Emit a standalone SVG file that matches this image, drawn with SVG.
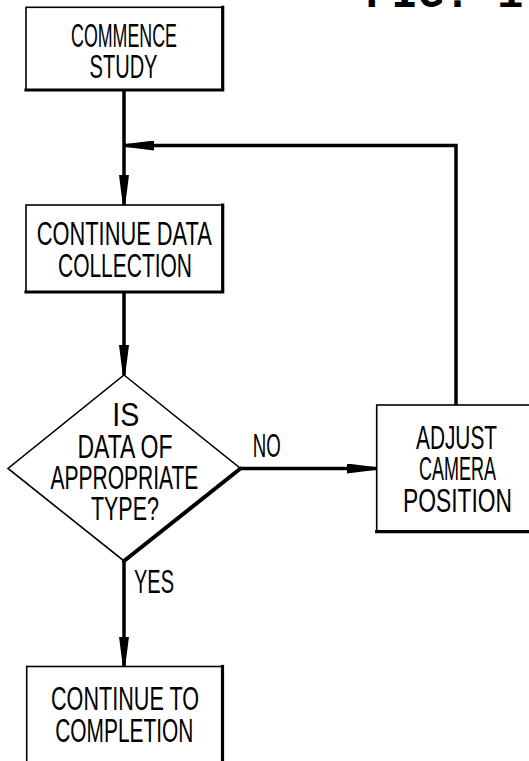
<svg xmlns="http://www.w3.org/2000/svg" width="529" height="761" viewBox="0 0 529 761">
<style>
.bg{fill:#fff}
.thin{fill:none;stroke:#000;stroke-width:1.6}
.thick{fill:none;stroke:#000;stroke-width:3.2;stroke-linecap:square}
.conn{fill:none;stroke:#000;stroke-width:3.5}
.lbl{font-family:"Liberation Sans",Arial,sans-serif;font-size:34px;fill:#000;text-anchor:middle}
.title{font-family:"Liberation Mono","Courier New",monospace;font-size:44px;font-weight:bold;fill:#000}
</style>
<defs>
<marker id="ah" viewBox="0 0 30 10" refX="30" refY="5" markerWidth="30" markerHeight="10" markerUnits="userSpaceOnUse" orient="auto">
<path d="M0,0 L30,3.8 L30,6.2 L0,10 Z" fill="#000"/>
</marker>
</defs>
<rect class="bg" x="0" y="0" width="529" height="761"/>
<text class="title" x="365" y="6.5">FIG. 1</text>

<g id="connectors">
<path class="conn" d="M124,90 V205" marker-end="url(#ah)"/>
<path class="conn" d="M456,405 V145.5 H124" marker-end="url(#ah)"/>
<path class="conn" d="M124,292 V375" marker-end="url(#ah)"/>
<path class="conn" d="M240.5,468.5 H377" marker-end="url(#ah)"/>
<path class="conn" d="M124,561 V666.5" marker-end="url(#ah)"/>
<text class="lbl" x="266.7" y="456.7" textLength="28" lengthAdjust="spacingAndGlyphs">NO</text>
<text class="lbl" x="154" y="593" textLength="40" lengthAdjust="spacingAndGlyphs">YES</text>
</g>

<g id="commence">
<rect class="thin" x="26" y="7.3" width="196.7" height="82.7"/>
<path class="thick" d="M222.7,7.3 V90 H26"/>
<text class="lbl" x="124" y="46.7" textLength="106" lengthAdjust="spacingAndGlyphs">COMMENCE</text>
<text class="lbl" x="123.5" y="77.7" textLength="68" lengthAdjust="spacingAndGlyphs">STUDY</text>
</g>

<g id="continue-data">
<rect class="thin" x="26" y="205" width="196.7" height="87"/>
<path class="thick" d="M222.7,205 V292 H26"/>
<text class="lbl" x="124.3" y="244.5" textLength="175" lengthAdjust="spacingAndGlyphs">CONTINUE DATA</text>
<text class="lbl" x="125" y="277" textLength="134" lengthAdjust="spacingAndGlyphs">COLLECTION</text>
</g>

<g id="decision">
<path class="thin" d="M124,375 L240.5,468.5 L124,561 L8,468.5 Z"/>
<path class="thick" d="M240.5,468.5 L124,561" style="stroke-width:4;stroke-linecap:round"/>
<text class="lbl" x="125.7" y="426" textLength="27" lengthAdjust="spacingAndGlyphs">IS</text>
<text class="lbl" x="125" y="457.5" textLength="95" lengthAdjust="spacingAndGlyphs">DATA OF</text>
<text class="lbl" x="124.4" y="489" textLength="148" lengthAdjust="spacingAndGlyphs">APPROPRIATE</text>
<text class="lbl" x="124.9" y="520" textLength="68" lengthAdjust="spacingAndGlyphs">TYPE?</text>
</g>

<g id="adjust">
<rect class="thin" x="376.7" y="405" width="170" height="126.7"/>
<path class="thick" d="M376.7,531.7 H546"/>
<text class="lbl" x="456.5" y="448.5" textLength="81" lengthAdjust="spacingAndGlyphs">ADJUST</text>
<text class="lbl" x="457.5" y="480" textLength="77" lengthAdjust="spacingAndGlyphs">CAMERA</text>
<text class="lbl" x="457.5" y="511.5" textLength="109" lengthAdjust="spacingAndGlyphs">POSITION</text>
</g>

<g id="completion">
<rect class="thin" x="26.7" y="666.5" width="195.8" height="110"/>
<path class="thick" d="M222.5,666.5 V776"/>
<text class="lbl" x="125" y="710" textLength="148" lengthAdjust="spacingAndGlyphs">CONTINUE TO</text>
<text class="lbl" x="124.3" y="741.7" textLength="138" lengthAdjust="spacingAndGlyphs">COMPLETION</text>
</g>
</svg>
